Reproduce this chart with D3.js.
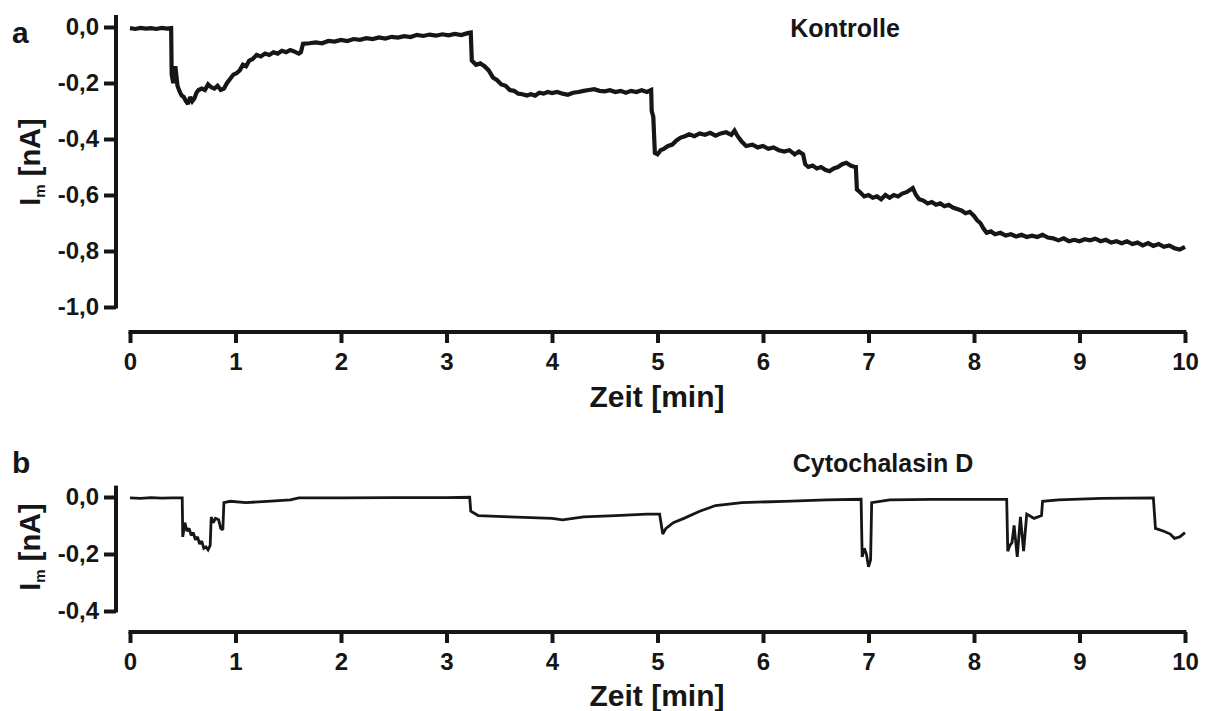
<!DOCTYPE html>
<html><head><meta charset="utf-8">
<script src="https://cdn.jsdelivr.net/npm/d3@7"></script>
<style>
body{margin:0;background:#fff;}
svg{display:block;font-family:"Liberation Sans",Arial,sans-serif;font-weight:bold;}
</style></head><body>
<svg id="c" width="1205" height="711"></svg>
<script>
// ---- data ----
const xTicks = [0,1,2,3,4,5,6,7,8,9,10];
const yTicksA = [0,-0.2,-0.4,-0.6,-0.8,-1.0];
const yTicksB = [0,-0.2,-0.4];
const titleA = "Kontrolle";
const titleB = "Cytochalasin D";

// [time (min), current (nA)]
const traceA = [
[0.00,-0.004],[0.05,-0.007],[0.10,-0.003],[0.15,-0.006],[0.20,-0.004],[0.25,-0.007],[0.30,-0.003],[0.35,-0.006],[0.39,-0.004],
[0.395,-0.17],[0.41,-0.20],[0.43,-0.14],[0.45,-0.21],[0.47,-0.23],[0.49,-0.245],[0.51,-0.25],[0.53,-0.265],[0.55,-0.275],[0.57,-0.25],[0.59,-0.265],[0.61,-0.255],[0.63,-0.235],[0.65,-0.225],[0.68,-0.22],[0.71,-0.225],[0.74,-0.205],[0.77,-0.215],[0.80,-0.22],[0.83,-0.21],[0.86,-0.225],[0.89,-0.22],[0.92,-0.20],[0.95,-0.185],[0.98,-0.17],[1.01,-0.165],[1.04,-0.155],[1.07,-0.135],[1.10,-0.14],[1.13,-0.12],[1.16,-0.115],[1.20,-0.10],[1.24,-0.105],[1.28,-0.095],[1.32,-0.10],[1.36,-0.09],[1.40,-0.095],[1.44,-0.085],[1.48,-0.09],[1.52,-0.082],[1.56,-0.088],[1.60,-0.095],[1.62,-0.09],
[1.64,-0.06],[1.70,-0.058],[1.76,-0.055],[1.82,-0.058],[1.88,-0.05],[1.94,-0.052],[2.00,-0.046],[2.06,-0.05],[2.12,-0.043],[2.18,-0.046],[2.24,-0.04],[2.30,-0.043],[2.36,-0.037],[2.42,-0.041],[2.48,-0.035],[2.54,-0.038],[2.60,-0.033],[2.66,-0.036],[2.72,-0.028],[2.78,-0.032],[2.84,-0.027],[2.90,-0.031],[2.96,-0.026],[3.02,-0.03],[3.08,-0.025],[3.14,-0.029],[3.20,-0.022],[3.23,-0.02],
[3.24,-0.12],[3.28,-0.135],[3.32,-0.13],[3.36,-0.14],[3.40,-0.155],[3.44,-0.18],[3.48,-0.19],[3.52,-0.205],[3.56,-0.21],[3.60,-0.225],[3.64,-0.228],[3.68,-0.238],[3.72,-0.24],[3.76,-0.245],[3.80,-0.24],[3.84,-0.245],[3.88,-0.235],[3.92,-0.238],[3.96,-0.232],[4.00,-0.236],[4.05,-0.232],[4.10,-0.238],[4.15,-0.242],[4.20,-0.235],[4.25,-0.232],[4.30,-0.228],[4.35,-0.225],[4.40,-0.222],[4.45,-0.228],[4.50,-0.23],[4.55,-0.226],[4.60,-0.232],[4.65,-0.228],[4.70,-0.235],[4.75,-0.228],[4.80,-0.232],[4.85,-0.226],[4.90,-0.232],[4.94,-0.225],
[4.945,-0.30],[4.96,-0.32],[4.975,-0.45],[5.00,-0.455],[5.03,-0.44],[5.06,-0.435],[5.10,-0.425],[5.14,-0.42],[5.18,-0.405],[5.22,-0.395],[5.26,-0.39],[5.30,-0.383],[5.35,-0.39],[5.40,-0.38],[5.45,-0.385],[5.50,-0.378],[5.55,-0.388],[5.60,-0.38],[5.65,-0.376],[5.70,-0.385],[5.73,-0.37],[5.76,-0.39],[5.80,-0.41],[5.84,-0.425],[5.90,-0.42],[5.95,-0.43],[6.00,-0.425],[6.05,-0.435],[6.10,-0.43],[6.15,-0.44],[6.20,-0.445],[6.25,-0.44],[6.30,-0.455],[6.34,-0.445],[6.38,-0.455],[6.40,-0.49],[6.43,-0.50],[6.47,-0.495],[6.51,-0.505],[6.55,-0.50],[6.59,-0.51],[6.63,-0.515],[6.67,-0.505],[6.71,-0.50],[6.75,-0.49],[6.79,-0.485],[6.83,-0.495],[6.87,-0.50],[6.88,-0.50],
[6.89,-0.58],[6.92,-0.59],[6.96,-0.605],[7.00,-0.60],[7.04,-0.61],[7.08,-0.605],[7.12,-0.615],[7.16,-0.60],[7.20,-0.61],[7.24,-0.60],[7.28,-0.605],[7.32,-0.595],[7.36,-0.59],[7.40,-0.58],[7.42,-0.575],[7.45,-0.60],[7.48,-0.615],[7.52,-0.62],[7.56,-0.63],[7.60,-0.625],[7.64,-0.635],[7.68,-0.63],[7.72,-0.64],[7.76,-0.635],[7.80,-0.645],[7.84,-0.65],[7.88,-0.655],[7.92,-0.665],[7.96,-0.66],[8.00,-0.675],[8.03,-0.69],[8.06,-0.70],[8.09,-0.72],[8.12,-0.735],[8.16,-0.73],[8.20,-0.74],[8.25,-0.735],[8.30,-0.745],[8.35,-0.74],[8.40,-0.748],[8.45,-0.742],[8.50,-0.75],[8.55,-0.745],[8.60,-0.75],[8.65,-0.742],[8.70,-0.752],[8.75,-0.755],[8.80,-0.762],[8.85,-0.755],[8.90,-0.765],[8.95,-0.76],[9.00,-0.765],[9.05,-0.758],[9.10,-0.762],[9.15,-0.756],[9.20,-0.765],[9.25,-0.76],[9.30,-0.77],[9.35,-0.765],[9.40,-0.772],[9.45,-0.765],[9.50,-0.775],[9.55,-0.77],[9.60,-0.78],[9.65,-0.772],[9.70,-0.782],[9.75,-0.775],[9.80,-0.785],[9.85,-0.78],[9.90,-0.79],[9.95,-0.795],[10.00,-0.785]
];

const traceB = [
[0.00,-0.003],[0.10,-0.005],[0.20,-0.002],[0.30,-0.004],[0.40,-0.003],[0.495,-0.003],
[0.50,-0.14],[0.52,-0.09],[0.54,-0.12],[0.56,-0.11],[0.58,-0.135],[0.60,-0.125],[0.62,-0.15],[0.64,-0.14],[0.66,-0.165],[0.68,-0.155],[0.70,-0.18],[0.72,-0.175],[0.74,-0.185],[0.76,-0.17],
[0.77,-0.07],[0.79,-0.09],[0.81,-0.075],[0.84,-0.08],[0.86,-0.11],[0.88,-0.115],
[0.89,-0.02],[0.95,-0.015],[1.10,-0.02],[1.30,-0.015],[1.52,-0.01],[1.60,-0.003],[2.00,-0.003],[2.50,-0.002],[3.00,-0.002],[3.22,-0.001],
[3.23,-0.05],[3.30,-0.065],[3.60,-0.07],[4.00,-0.075],[4.10,-0.08],[4.30,-0.07],[4.60,-0.065],[4.90,-0.06],[5.02,-0.06],
[5.05,-0.13],[5.08,-0.11],[5.15,-0.09],[5.25,-0.075],[5.40,-0.05],[5.55,-0.03],[5.80,-0.02],[6.20,-0.015],[6.60,-0.01],[6.93,-0.008],
[6.94,-0.21],[6.96,-0.18],[6.98,-0.2],[7.00,-0.245],[7.02,-0.22],[7.03,-0.02],[7.20,-0.01],[7.60,-0.008],[8.00,-0.008],[8.31,-0.008],
[8.32,-0.19],[8.34,-0.17],[8.36,-0.16],[8.38,-0.10],[8.41,-0.21],[8.44,-0.07],[8.47,-0.19],[8.50,-0.06],[8.57,-0.075],[8.64,-0.065],
[8.65,-0.015],[8.80,-0.01],[9.20,-0.005],[9.70,-0.003],
[9.72,-0.11],[9.80,-0.12],[9.86,-0.13],[9.90,-0.145],[9.95,-0.14],[10.00,-0.125]
];

// ---- drawing ----
const svg = d3.select("#c");
const ink = "#161616";
const fmt = d => d3.format(".1f")(d).replace(".", ",").replace("−","-");

function panel(o){
  const x = d3.scaleLinear().domain([0,10]).range([130,1185]);
  const y = d3.scaleLinear().domain([0,o.yMin]).range([o.y0,o.y1]);
  const g = svg.append("g");
  const ya = g.append("g").attr("transform",`translate(${o.yAxisX},0)`)
    .call(d3.axisLeft(y).tickValues(o.yTicks).tickFormat(fmt).tickSize(12).tickSizeOuter(0).tickPadding(5));
  ya.select(".domain").attr("d",`M0,${y(o.yTop)}V${y(o.yMin)+1.5}`);
  const xa = g.append("g").attr("transform",`translate(0,${o.xAxisY})`)
    .call(d3.axisBottom(x).tickValues(xTicks).tickFormat(d3.format("d")).tickSize(11).tickSizeOuter(0).tickPadding(10));
  xa.select(".domain").attr("d",`M${x(0)-1.5},0H${x(10)+1.5}`);
  [ya,xa].forEach(a=>{
    a.select(".domain").attr("stroke",ink).attr("stroke-width",4).attr("fill","none");
    a.selectAll(".tick line").attr("stroke",ink).attr("stroke-width",4);
    a.selectAll(".tick text").attr("fill",ink).style("font-size","24px").style("font-weight","bold")
      .style("font-family","'Liberation Sans',Arial,sans-serif");
  });
  g.append("path").datum(o.trace)
    .attr("d", d3.line().x(d=>x(d[0])).y(d=>y(d[1])))
    .attr("fill","none").attr("stroke",ink).attr("stroke-width",o.sw).attr("stroke-linejoin","miter").attr("stroke-miterlimit",2);
  g.append("text").attr("x",657).attr("y",o.xLabelY).attr("text-anchor","middle")
    .style("font-size","30px").attr("fill",ink).text("Zeit [min]");
  const yl = g.append("text").attr("transform",`translate(40,${o.yLabelC}) rotate(-90)`)
    .attr("text-anchor","middle").style("font-size","29px").attr("fill",ink);
  yl.append("tspan").text("I");
  yl.append("tspan").attr("dy",5).style("font-size","15px").text("m");
  yl.append("tspan").attr("dy",-5).text(" [nA]");
  g.append("text").attr("x",12).attr("y",o.letterY).style("font-size","30px").attr("fill",ink).text(o.letter);
  g.append("text").attr("x",o.titleX).attr("y",o.titleY).attr("text-anchor","middle")
    .style("font-size","25px").attr("fill",ink).text(o.title);
}

panel({trace:traceA,yMin:-1.0,y0:27,y1:307,yTop:0.043,yTicks:yTicksA,yAxisX:116,xAxisY:332,
  xLabelY:407,yLabelC:162,letter:"a",letterY:43,title:titleA,titleX:845,titleY:37,sw:4.2});
panel({trace:traceB,yMin:-0.4,y0:497,y1:611,yTop:0.04,yTicks:yTicksB,yAxisX:116,xAxisY:632,
  xLabelY:706,yLabelC:547,letter:"b",letterY:473,title:titleB,titleX:883,titleY:472,sw:2.8});
</script>
</body></html>
